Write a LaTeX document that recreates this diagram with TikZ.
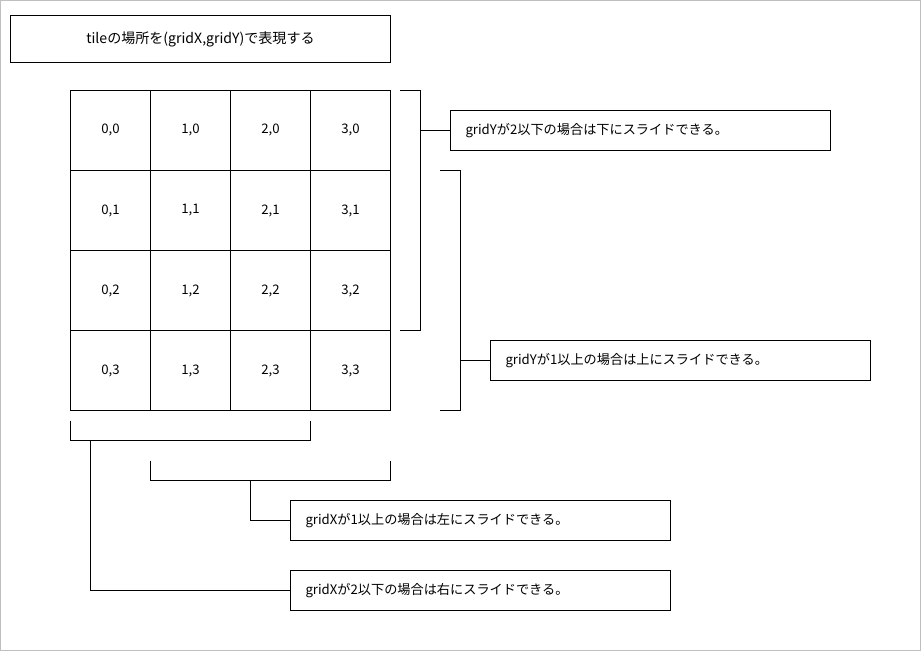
\documentclass[tikz,border=0pt]{standalone}
\usepackage{fontspec}
\setmainfont{Noto Sans CJK JP}
\usetikzlibrary{positioning}
\tikzset{
  cell/.style={draw,minimum size=1.6cm,inner sep=0pt,font=\fontsize{7.5}{9}\selectfont},
  note/.style={draw,minimum width=7.6cm,minimum height=0.8cm,text width=7.0cm,align=left,font=\fontsize{7.5}{9}\selectfont},
  brk/.style={draw,line width=0.5pt}
}
\begin{document}
\begin{tikzpicture}[x=0.02cm,y=-0.02cm,every path/.append style={line width=0.5pt}]
\draw[gray!50] (0,0) rectangle (920,650);
\node(title) [draw,minimum width=7.6cm,minimum height=0.94cm,font=\fontsize{8}{10}\selectfont] at (200,38.5) {tileの場所を(gridX,gridY)で表現する};
% grid
\foreach \x in {0,...,3}
  \foreach \y in {0,...,3}
    \node(c\x\y) [cell] at (110+80*\x,130+80*\y) {\x,\y};
% notes
\node(down) [note] at (640,130) {gridYが2以下の場合は下にスライドできる。};
\node(up) [note] at (680,360) {gridYが1以上の場合は上にスライドできる。};
\node(left) [note] at (480,520) {gridXが1以上の場合は左にスライドできる。};
\node(right) [note] at (480,590) {gridXが2以下の場合は右にスライドできる。};
% brackets
\draw (400,90) -- (420,90) -- (420,330) -- (400,330);
\draw (420,130) -- (down.west);
\draw (440,170) -- (460,170) -- (460,410) -- (440,410);
\draw (460,360) -- (up.west);
\draw (70,420) -- (70,440) -- (310,440) -- (310,420);
\draw (90,440) |- (right.west);
\draw (150,460) -- (150,480) -- (390,480) -- (390,460);
\draw (250,480) |- (left.west);
\end{tikzpicture}
\end{document}
